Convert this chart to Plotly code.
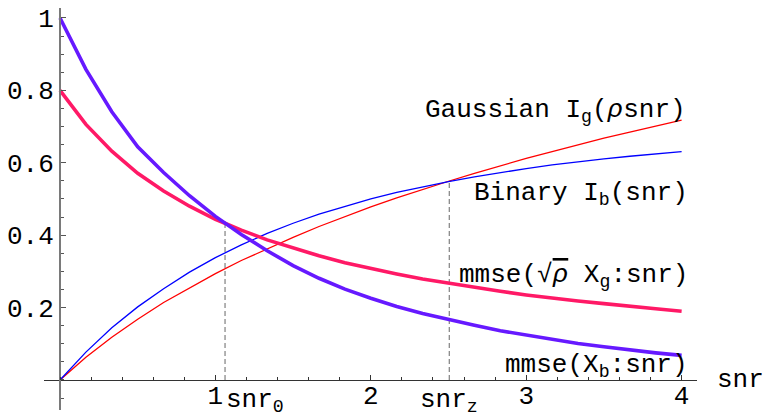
import plotly.graph_objects as go

# Sample grid (snr) and the four curves
snr = [0.0, 0.1667, 0.3333, 0.5, 0.6667, 0.8333, 1.0, 1.1667, 1.3333, 1.5,
       1.6667, 1.8333, 2.0, 2.1667, 2.3333, 2.5, 2.6667, 2.8333, 3.0, 3.1667,
       3.3333, 3.5, 3.6667, 3.8333, 4.0]

mmse_binary = [1.000, 0.858, 0.741, 0.644, 0.573, 0.509, 0.452, 0.402, 0.357, 0.316,
               0.281, 0.251, 0.226, 0.203, 0.184, 0.167, 0.151, 0.136, 0.124, 0.112,
               0.101, 0.092, 0.083, 0.075, 0.068]
mmse_gauss = [0.800, 0.706, 0.632, 0.571, 0.522, 0.480, 0.444, 0.414, 0.387, 0.364,
              0.343, 0.324, 0.308, 0.293, 0.279, 0.267, 0.255, 0.245, 0.235, 0.226,
              0.218, 0.211, 0.203, 0.197, 0.190]
info_gauss = [0.000, 0.063, 0.118, 0.168, 0.214, 0.255, 0.294, 0.330, 0.363, 0.394,
              0.424, 0.452, 0.478, 0.503, 0.527, 0.549, 0.571, 0.592, 0.612, 0.631,
              0.650, 0.668, 0.685, 0.701, 0.718]
info_binary = [0.000, 0.077, 0.144, 0.202, 0.252, 0.298, 0.338, 0.373, 0.405, 0.433,
               0.458, 0.480, 0.500, 0.518, 0.534, 0.548, 0.561, 0.573, 0.584, 0.594,
               0.603, 0.611, 0.618, 0.625, 0.631]

# Crossing points marked by dashed drop lines
snr_0, mmse_at_snr_0 = 1.062, 0.433
snr_z, info_at_snr_z = 2.505, 0.550

x_ticks = [1, 2, 3, 4]
x_tick_text = ["1", "2", "3", "4"]
y_ticks = [0.2, 0.4, 0.6, 0.8, 1.0]
y_tick_text = ["0.2", "0.4", "0.6", "0.8", "1"]

FONT = "Liberation Mono, Courier New, monospace"
FS = 26

X_RANGE = [-0.103, 4.099]
Y_RANGE = [-0.0829, 1.0276]

fig = go.Figure()

dash_style = dict(color="#808080", width=1.2, dash="5px,3px")
fig.add_trace(go.Scatter(x=[snr_0, snr_0], y=[0, mmse_at_snr_0], mode="lines", line=dash_style))
fig.add_trace(go.Scatter(x=[snr_z, snr_z], y=[0, info_at_snr_z], mode="lines", line=dash_style))

fig.add_trace(go.Scatter(x=snr, y=info_gauss, mode="lines", line=dict(color="#FF0000", width=1.3)))
fig.add_trace(go.Scatter(x=snr, y=info_binary, mode="lines", line=dict(color="#0000FF", width=1.3)))
fig.add_trace(go.Scatter(x=snr, y=mmse_gauss, mode="lines", line=dict(color="#FF1966", width=3.6)))
fig.add_trace(go.Scatter(x=snr, y=mmse_binary, mode="lines", line=dict(color="#6619FF", width=3.6)))

x_pos = (0 - X_RANGE[0]) / (X_RANGE[1] - X_RANGE[0])
y_pos = (0 - Y_RANGE[0]) / (Y_RANGE[1] - Y_RANGE[0])

fig.update_layout(
    width=767, height=413,
    margin=dict(l=44, r=70, t=8, b=3),
    paper_bgcolor="white", plot_bgcolor="white",
    showlegend=False,
    font=dict(family=FONT, size=FS, color="black"),
    xaxis=dict(
        range=X_RANGE, domain=[0, 1], anchor="free", position=y_pos,
        showgrid=False, zeroline=False, showline=True, linecolor="#333333", linewidth=1.2,
        tickmode="array", tickvals=x_ticks, ticktext=x_tick_text,
        ticks="inside", ticklen=5, tickwidth=1, tickcolor="#333333",
        minor=dict(dtick=0.2, tick0=0, ticks="inside", ticklen=3, tickwidth=1, tickcolor="#333333"),
        tickfont=dict(family=FONT, size=FS), ticklabelstandoff=-8, automargin=False,
    ),
    yaxis=dict(
        range=Y_RANGE, domain=[0, 1], anchor="free", position=x_pos,
        showgrid=False, zeroline=False, showline=True, linecolor="#7a7a7a", linewidth=2,
        tickmode="array", tickvals=y_ticks, ticktext=y_tick_text,
        ticks="inside", ticklen=5, tickwidth=1, tickcolor="#555555",
        minor=dict(dtick=0.05, tick0=0, ticks="inside", ticklen=3, tickwidth=1, tickcolor="#555555"),
        tickfont=dict(family=FONT, size=FS), automargin=False,
    ),
)

def label(text, x, y, xanchor="right", yanchor="middle", xref="x", yref="y"):
    fig.add_annotation(text=text, x=x, y=y, xref=xref, yref=yref, xanchor=xanchor,
                       yanchor=yanchor, showarrow=False, font=dict(family=FONT, size=FS),
                       borderpad=0)

label("Gaussian I<sub>g</sub>(<i>ρ</i>snr)", 4.035, 0.743)
label("Binary I<sub>b</sub>(snr)", 4.05, 0.515)
label("mmse(√<span style='text-decoration:overline'><i>ρ</i></span> X<sub>g</sub>:snr)", 4.05, 0.287)
label("mmse(X<sub>b</sub>:snr)", 4.05, 0.038)
label("snr<sub>0</sub>", snr_0, -0.012, xanchor="left", yanchor="top")
label("snr<sub>z</sub>", snr_z, -0.012, xanchor="center", yanchor="top")
label("snr", 1.067, y_pos, xanchor="center", yanchor="middle", xref="paper", yref="paper")

fig.write_html("out.html")
